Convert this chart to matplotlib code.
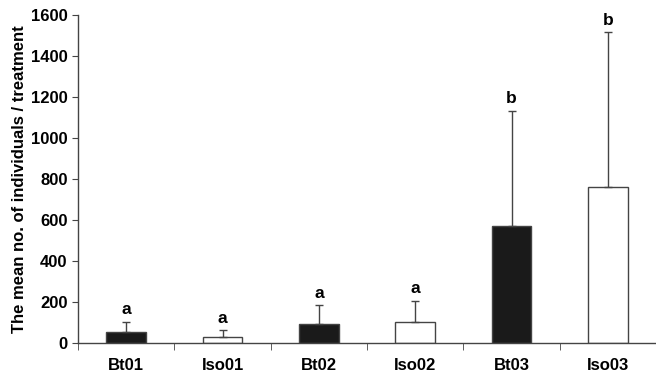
import numpy as np
import matplotlib.pyplot as plt

# Values
treatments = ['Bt01', 'Iso01', 'Bt02', 'Iso02', 'Bt03', 'Iso03']
means = [54, 30, 92, 104, 571, 761]
upper_err = [49, 32, 92, 102, 561, 755]
letters = ['a', 'a', 'a', 'a', 'b', 'b']
fill_colors = ['#1a1a1a', 'white', '#1a1a1a', 'white', '#1a1a1a', 'white']

plt.rcParams['font.family'] = ['Liberation Sans', 'DejaVu Sans']
plt.rcParams['font.weight'] = 'bold'

fig = plt.figure(figsize=(6.56, 3.78), dpi=100)
ax = fig.add_axes([0.119, 0.093, 0.881, 0.867])

line_col = '#444444'
x = np.arange(len(treatments))
ax.bar(x, means, width=0.41, color=fill_colors, edgecolor=line_col, linewidth=1.0, zorder=2)
ax.errorbar(x, means, yerr=[np.zeros(len(means)), upper_err], fmt='none',
            ecolor=line_col, elinewidth=1.0, capsize=3, capthick=1.0, zorder=3)

for xi, m, e, lab in zip(x, means, upper_err, letters):
    ax.text(xi, m + e + 22, lab, ha='center', va='bottom', fontsize=12.5, fontweight='bold')

ax.set_xlim(-0.5, 5.5)
ax.set_ylim(0, 1600)
ax.set_yticks(np.arange(0, 1601, 200))
ax.set_xticks(x)
ax.set_xticklabels(treatments, fontsize=12, fontweight='bold')
ax.set_xticks(np.arange(-0.5, 5.5, 1), minor=True)
ax.tick_params(axis='x', which='major', length=0, pad=11)
ax.tick_params(axis='x', which='minor', length=5, direction='out', color=line_col)
ax.tick_params(axis='y', length=4, direction='out', color=line_col, labelsize=12)
for lbl in ax.get_yticklabels():
    lbl.set_fontweight('bold')

ax.set_ylabel('The mean no. of individuals / treatment', fontsize=12, fontweight='bold', labelpad=3)
for side in ['top', 'right']:
    ax.spines[side].set_visible(False)
for side in ['left', 'bottom']:
    ax.spines[side].set_color(line_col)
    ax.spines[side].set_linewidth(1.0)

plt.savefig('out.png', dpi=100)
